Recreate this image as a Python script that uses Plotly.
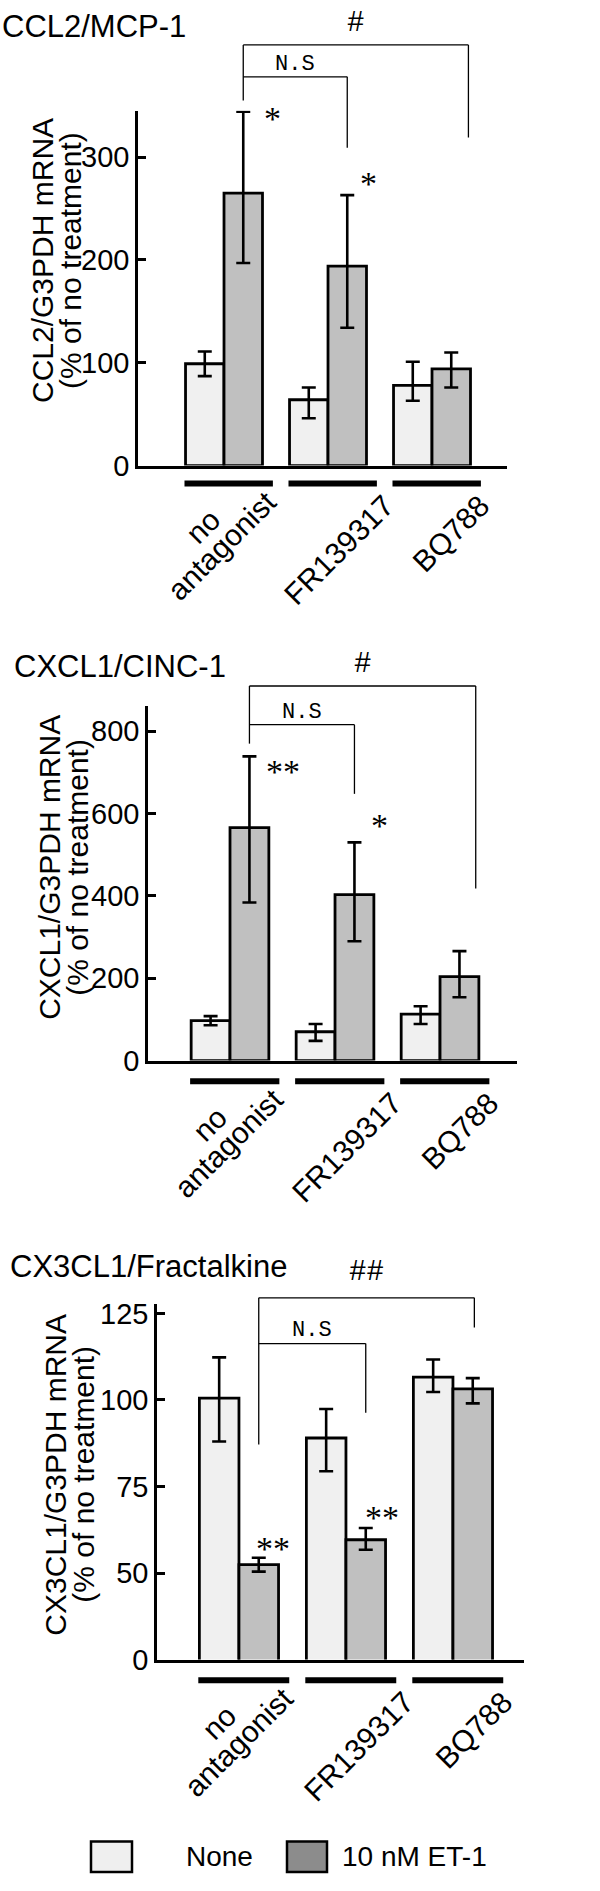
import plotly.graph_objects as go

W, H = 600, 1891

# ---------------- data ----------------
groups = ["no<br>antagonist", "FR139317", "BQ788"]
series_names = ["None", "10 nM ET-1"]
panel_titles = ["CCL2/MCP-1", "CXCL1/CINC-1", "CX3CL1/Fractalkine"]
y_titles = [["CCL2/G3PDH mRNA", "(% of no treatment)"],
            ["CXCL1/G3PDH mRNA", "(% of no treatment)"],
            ["CX3CL1/G3PDH mRNA", "(% of no treatment)"]]

ccl2_none = [99, 64, 78]
ccl2_none_hi = [111, 76, 101]
ccl2_none_lo = [87, 46, 63]
ccl2_et1 = [265, 194, 94]
ccl2_et1_hi = [344, 263, 110]
ccl2_et1_lo = [197, 134, 76]

cxcl1_none = [97, 70, 113]
cxcl1_none_hi = [108, 89, 132]
cxcl1_none_lo = [86, 48, 89]
cxcl1_et1 = [566, 403, 204]
cxcl1_et1_hi = [739, 530, 266]
cxcl1_et1_lo = [384, 290, 154]

cx3cl1_none = [100.5, 89, 106.6]
cx3cl1_none_hi = [112.3, 97.4, 111.7]
cx3cl1_none_lo = [88, 79.4, 102.3]
cx3cl1_et1 = [52.4, 59.6, 103.2]
cx3cl1_et1_hi = [54.4, 63, 106.3]
cx3cl1_et1_lo = [50.4, 56.7, 99]

ccl2_ticks = [0, 100, 200, 300]
ccl2_ticktext = ["0", "100", "200", "300"]
cxcl1_ticks = [0, 200, 400, 600, 800]
cxcl1_ticktext = ["0", "200", "400", "600", "800"]
cx3cl1_ticks = [25, 50, 75, 100, 125]
cx3cl1_ticktext = ["0", "50", "75", "100", "125"]

# significance marks: (group of ET-1 bar, text)
ccl2_stars = [(0, "*"), (1, "*")]
cxcl1_stars = [(0, "**"), (1, "*")]
cx3cl1_stars = [(0, "**"), (1, "**")]

# ---------------- styling / geometry ----------------
FONT = "Liberation Sans, Arial, Helvetica, sans-serif"
MONO = "Liberation Mono, Courier New, monospace"
SERIF = "Liberation Serif, Times New Roman, serif"
C_NONE = "#f0f0f0"
C_ET = "#c0c0c0"
TICK_SIZE = 29
LAB_SIZE = 30
YT_SIZE = 30
EDGE = 2.8

# approximate advance widths (em) of Liberation Sans, used to place rotated labels
AW = {'a': .556, 'n': .556, 't': .278, 'g': .556, 'o': .556, 'i': .222, 's': .5,
      'F': .611, 'R': .722, 'B': .667, 'Q': .778}


def text_w(s, f):
    return sum(AW.get(c, .556) for c in s) * f


# label end point offsets (px) from the right end of each group underline
LABEL_END = [(-10, 5), (4, 9), (-5, 9)]

panels = [
    dict(none=ccl2_none, nhi=ccl2_none_hi, nlo=ccl2_none_lo,
         et=ccl2_et1, ehi=ccl2_et1_hi, elo=ccl2_et1_lo,
         ticks=ccl2_ticks, ticktext=ccl2_ticktext, stars=ccl2_stars,
         x0=138, x1=507, ytop=106, ybot=465, yr=[0, 345], xr=[-0.827, 2.721],
         title_xy=(0, 21), ytitle_x=(43, 71), ytitle_y=258,
         top_mark="#", brk_top=409, brk_left_leg=355, brk_right_leg=319, brk_right_x=2.35,
         ns_y=378, ns_leg=309, ns_text=390, top_text=430,
         star_pos=[(0.47, 337), (0.385, 274)], ul_y=483),
    dict(none=cxcl1_none, nhi=cxcl1_none_hi, nlo=cxcl1_none_lo,
         et=cxcl1_et1, ehi=cxcl1_et1_hi, elo=cxcl1_et1_lo,
         ticks=cxcl1_ticks, ticktext=cxcl1_ticktext, stars=cxcl1_stars,
         x0=148, x1=517, ytop=708, ybot=1067, yr=[0, 862], xr=[-0.781, 2.733],
         title_xy=(12, 668), ytitle_x=(50, 78), ytitle_y=872,
         top_mark="#", brk_top=910, brk_left_leg=770, brk_right_leg=418, brk_right_x=2.34,
         ns_y=816, ns_leg=648, ns_text=846, top_text=962,
         star_pos=[(0.5, 702), (0.42, 570)], ul_y=1088),
    dict(none=cx3cl1_none, nhi=cx3cl1_none_hi, nlo=cx3cl1_none_lo,
         et=cx3cl1_et1, ehi=cx3cl1_et1_hi, elo=cx3cl1_et1_lo,
         ticks=cx3cl1_ticks, ticktext=cx3cl1_ticktext, stars=cx3cl1_stars,
         x0=157, x1=524, ytop=1313, ybot=1673, yr=[25, 127.8], xr=[-0.766, 2.664],
         title_xy=(8, 1275), ytitle_x=(56, 84), ytitle_y=1486,
         top_mark="##", brk_top=129.5, brk_left_leg=87.1, brk_right_leg=120.9, brk_right_x=2.2,
         ns_y=116.3, ns_leg=96.3, ns_text=120.0, top_text=136.8,
         star_pos=[(0.32, 57.0), (0.34, 65.9)], ul_y=1694),
]


def px(xp):
    return xp / W


def py(yp):
    return 1 - yp / H


fig = go.Figure()
shapes = []
annotations = []
layout_axes = {}
ET_OFF = 0.185  # centre of ET-1 bar relative to group centre
R2 = 0.7071

for i, p in enumerate(panels):
    n = "" if i == 0 else str(i + 1)
    xa, ya = "x" + n, "y" + n
    xs = [0, 1, 2]
    fig.add_trace(go.Bar(
        x=xs, y=p["none"], name=series_names[0], xaxis=xa, yaxis=ya,
        marker=dict(color=C_NONE, line=dict(color="black", width=EDGE)),
        error_y=dict(type="data", symmetric=False,
                     array=[h - v for h, v in zip(p["nhi"], p["none"])],
                     arrayminus=[v - l for v, l in zip(p["none"], p["nlo"])],
                     color="black", thickness=2.6, width=7),
        showlegend=False))
    fig.add_trace(go.Bar(
        x=xs, y=p["et"], name=series_names[1], xaxis=xa, yaxis=ya,
        marker=dict(color=C_ET, line=dict(color="black", width=EDGE)),
        error_y=dict(type="data", symmetric=False,
                     array=[h - v for h, v in zip(p["ehi"], p["et"])],
                     arrayminus=[v - l for v, l in zip(p["et"], p["elo"])],
                     color="black", thickness=2.6, width=7),
        showlegend=False))

    layout_axes["xaxis" + n] = dict(
        domain=[px(p["x0"]), px(p["x1"])], range=p["xr"], anchor=ya,
        showline=True, linecolor="black", linewidth=2.5, showticklabels=False,
        ticks="", showgrid=False, zeroline=False, fixedrange=True)
    layout_axes["yaxis" + n] = dict(
        domain=[py(p["ybot"]), py(p["ytop"])], range=p["yr"], anchor=xa,
        showline=True, linecolor="black", linewidth=2.5,
        tickmode="array", tickvals=p["ticks"], ticktext=p["ticktext"],
        ticks="inside", ticklen=8, tickwidth=2.5, tickcolor="black",
        tickfont=dict(family=FONT, size=TICK_SIZE, color="black"),
        ticklabelstandoff=0,
        showgrid=False, zeroline=False, fixedrange=True)

    r0, r1 = p["yr"]

    def yd(v, r0=r0, r1=r1):
        return (v - r0) / (r1 - r0)

    ydr = ya + " domain"

    # panel title
    annotations.append(dict(text=panel_titles[i], xref="paper", yref="paper",
                            x=px(p["title_xy"][0]), y=py(p["title_xy"][1]),
                            xanchor="left", yanchor="middle", showarrow=False,
                            font=dict(family=FONT, size=31, color="black")))
    # y title (two rotated lines)
    for ln, xc in zip(y_titles[i], p["ytitle_x"]):
        annotations.append(dict(text=ln, xref="paper", yref="paper",
                                x=px(xc), y=py(p["ytitle_y"]),
                                xanchor="center", yanchor="middle", showarrow=False,
                                textangle=-90, borderpad=0,
                                font=dict(family=FONT, size=YT_SIZE, color="black")))
    # group underline bars + rotated category labels (line by line, centred)
    for g, lab in enumerate(groups):
        shapes.append(dict(type="line", xref=xa, yref="paper",
                           x0=g - 0.38, x1=g + 0.47,
                           y0=py(p["ul_y"]), y1=py(p["ul_y"]),
                           line=dict(color="black", width=6)))
        lines = lab.split("<br>")
        ex, ey = LABEL_END[g]
        f = LAB_SIZE
        L_last = text_w(lines[-1], f)
        cx = ex - R2 * L_last / 2 + R2 * 0.37 * f
        cy = ey + R2 * L_last / 2 + R2 * 0.37 * f
        nl = len(lines)
        for k, ln in enumerate(lines):
            back = (nl - 1 - k) * 0.9 * f
            lx_ = cx - R2 * back
            ly_ = cy - R2 * back
            annotations.append(dict(text=ln, xref=xa, yref="paper",
                                    x=g + 0.47, y=py(p["ul_y"]),
                                    xanchor="center", yanchor="middle",
                                    xshift=lx_, yshift=-ly_, showarrow=False,
                                    textangle=-45, borderpad=0,
                                    font=dict(family=FONT, size=f, color="black")))
    # brackets
    lx = 0 + ET_OFF
    nsx = 1 + ET_OFF
    rx = p["brk_right_x"]
    bl = dict(color="black", width=1.3)
    shapes += [
        dict(type="line", xref=xa, yref=ydr, x0=lx, x1=rx,
             y0=yd(p["brk_top"]), y1=yd(p["brk_top"]), line=bl),
        dict(type="line", xref=xa, yref=ydr, x0=lx, x1=lx,
             y0=yd(p["brk_top"]), y1=yd(p["brk_left_leg"]), line=bl),
        dict(type="line", xref=xa, yref=ydr, x0=rx, x1=rx,
             y0=yd(p["brk_top"]), y1=yd(p["brk_right_leg"]), line=bl),
        dict(type="line", xref=xa, yref=ydr, x0=lx, x1=nsx,
             y0=yd(p["ns_y"]), y1=yd(p["ns_y"]), line=bl),
        dict(type="line", xref=xa, yref=ydr, x0=nsx, x1=nsx,
             y0=yd(p["ns_y"]), y1=yd(p["ns_leg"]), line=bl),
    ]
    annotations.append(dict(text=p["top_mark"], xref=xa, yref=ydr,
                            x=(lx + rx) / 2, y=yd(p["top_text"]), showarrow=False,
                            xanchor="center", yanchor="middle",
                            font=dict(family=MONO, size=29, color="black")))
    annotations.append(dict(text="N.S", xref=xa, yref=ydr,
                            x=(lx + nsx) / 2, y=yd(p["ns_text"]), showarrow=False,
                            xanchor="center", yanchor="middle",
                            font=dict(family=MONO, size=22, color="black")))
    for (g, s), (dx, sy) in zip(p["stars"], p["star_pos"]):
        annotations.append(dict(text=s, xref=xa, yref=ydr,
                                x=g + dx, y=yd(sy), showarrow=False,
                                xanchor="center", yanchor="middle",
                                font=dict(family=SERIF, size=34, color="black")))

# legend (drawn manually)
leg_y0, leg_y1 = 1857, 1888
shapes.append(dict(type="rect", xref="paper", yref="paper",
                   x0=px(91), x1=px(132), y0=py(leg_y1), y1=py(leg_y0),
                   fillcolor="#efefef", line=dict(color="black", width=2.5)))
shapes.append(dict(type="rect", xref="paper", yref="paper",
                   x0=px(287), x1=px(327), y0=py(leg_y1), y1=py(leg_y0),
                   fillcolor="#8c8c8c", line=dict(color="black", width=2.5)))
annotations.append(dict(text=series_names[0], xref="paper", yref="paper",
                        x=px(184), y=py(1872), xanchor="left", yanchor="middle",
                        showarrow=False, font=dict(family=FONT, size=28, color="black")))
annotations.append(dict(text=series_names[1], xref="paper", yref="paper",
                        x=px(340), y=py(1872), xanchor="left", yanchor="middle",
                        showarrow=False, font=dict(family=FONT, size=28, color="black")))

fig.update_layout(
    width=W, height=H, margin=dict(l=0, r=0, t=0, b=0),
    paper_bgcolor="white", plot_bgcolor="white",
    barmode="group", bargap=0.26, bargroupgap=0,
    showlegend=False, shapes=shapes, annotations=annotations,
    font=dict(family=FONT, color="black"),
    **layout_axes)

fig.write_html("out.html", config={"displayModeBar": False},
               post_script="document.body.style.margin='0px';")
